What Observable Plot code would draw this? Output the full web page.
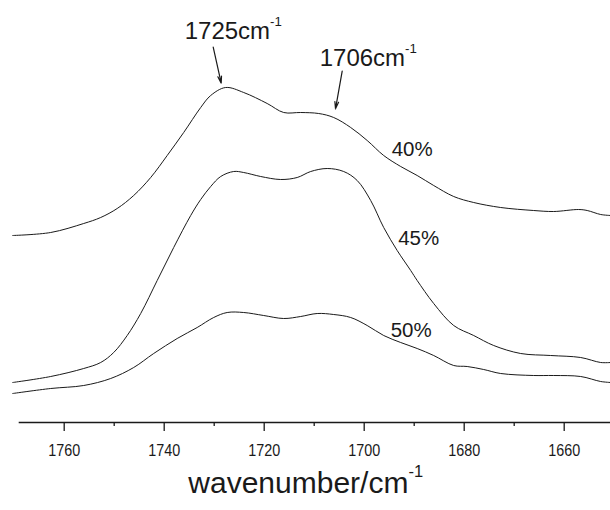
<!DOCTYPE html>
<html>
<head>
<meta charset="utf-8">
<script src="https://cdn.jsdelivr.net/npm/d3@7"></script>
<script src="https://cdn.jsdelivr.net/npm/@observablehq/plot@0.6"></script>
<style>
  html, body { margin: 0; padding: 0; background: #fff; }
  #chart svg { display: block; font-family: "Liberation Sans", Arial, sans-serif; }
</style>
</head>
<body>
<div id="chart"></div>
<script>
// ---- data (wavenumber in cm^-1, absorbance in arbitrary offset units) ----
const wn40 = [1770.3,1762.7,1756.1,1752.7,1749.4,1746.1,1742.7,1739.4,1736.1,1732.7,1730.7,1727.7,1724.1,1719.4,1716.1,1712.7,1709.1,1706.1,1702.7,1699.4,1696.1,1692.7,1689.4,1686.1,1682.1,1678.1,1672.7,1666.1,1662.1,1657.1,1655.4,1652.7,1650.7];
const ab40 = [1.87,1.90,1.99,2.05,2.14,2.27,2.45,2.67,2.90,3.15,3.27,3.35,3.30,3.19,3.10,3.10,3.09,3.05,2.95,2.82,2.67,2.56,2.47,2.37,2.26,2.20,2.15,2.12,2.11,2.13,2.12,2.08,2.07];

const wn45 = [1770.3,1762.7,1756.1,1752.7,1750.1,1747.4,1744.7,1741.4,1738.1,1734.7,1732.7,1730.7,1728.7,1726.1,1724.1,1720.7,1716.7,1713.4,1710.7,1707.4,1704.1,1701.4,1698.7,1696.1,1693.4,1690.7,1689.4,1686.1,1682.1,1678.1,1674.1,1668.7,1662.7,1656.7,1652.7,1650.7];
const ab45 = [0.40,0.46,0.54,0.60,0.70,0.87,1.09,1.42,1.75,2.07,2.23,2.36,2.46,2.51,2.50,2.46,2.43,2.45,2.51,2.54,2.51,2.42,2.22,1.95,1.72,1.52,1.42,1.19,0.97,0.87,0.77,0.69,0.67,0.65,0.60,0.60];

const wn50 = [1770.3,1762.7,1756.1,1750.7,1746.1,1742.1,1737.4,1733.4,1730.1,1727.4,1724.1,1720.1,1716.1,1712.7,1709.4,1706.1,1702.7,1699.4,1696.1,1692.7,1689.4,1686.1,1682.1,1679.4,1676.1,1672.7,1666.1,1662.1,1656.7,1652.7,1650.7];
const ab50 = [0.29,0.34,0.37,0.44,0.55,0.69,0.84,0.95,1.05,1.10,1.10,1.07,1.04,1.06,1.09,1.08,1.05,0.97,0.87,0.80,0.74,0.67,0.57,0.56,0.53,0.49,0.47,0.47,0.46,0.41,0.40];

const majorTicks = [1760, 1740, 1720, 1700, 1680, 1660];
const minorTicks = [1750, 1730, 1710, 1690, 1670];

const seriesLabels = ["40%", "45%", "50%"];
const seriesLabelX = [1694.5, 1693.2, 1694.7];
const seriesLabelY = [2.67, 1.78, 0.86];

const peakLabels = ["1725cm", "1706cm"];
const peakLabelX = [1735.9, 1708.9];
const peakLabelY = [3.837, 3.57];
const arrowFromX = [1730.2, 1704.4];
const arrowFromY = [3.753, 3.513];
const arrowToX = [1728.6, 1705.74];
const arrowToY = [3.393, 3.137];

const xLabel = "wavenumber/cm";
const xLabelPos = 1711.7;

// ---- build tables ----
const toRows = (wn, ab, s) => wn.map((w, i) => ({wn: w, a: ab[i], s}));
const curves = [toRows(wn40, ab40, "40%"), toRows(wn45, ab45, "45%"), toRows(wn50, ab50, "50%")];
const lbls = seriesLabels.map((t, i) => ({t, x: seriesLabelX[i], y: seriesLabelY[i]}));
const peaks = peakLabels.map((t, i) => ({t, x: peakLabelX[i], y: peakLabelY[i],
  x1: arrowFromX[i], y1: arrowFromY[i], x2: arrowToX[i], y2: arrowToY[i]}));

const ink = "#1a1a1a";

const plot = Plot.plot({
  width: 610,
  height: 510,
  marginLeft: 12,
  marginRight: 0,
  marginTop: 0,
  marginBottom: 88,
  style: {fontFamily: '"Liberation Sans", Arial, sans-serif', color: ink, background: "#fff"},
  x: {domain: [1770.34, 1650.74]},
  y: {domain: [0, 4.22], axis: null},
  marks: [
    ...curves.map(c => Plot.line(c, {x: "wn", y: "a", stroke: ink, strokeWidth: 1, curve: "catmull-rom"})),
    Plot.ruleY([0], {x1: 1769, x2: 1650.74, stroke: ink, strokeWidth: 1.6}),
    Plot.axisX({ticks: minorTicks, tickSize: 4, text: null, label: null, stroke: ink, strokeWidth: 1.3}),
    Plot.axisX({ticks: majorTicks, tickSize: 9, tickPadding: 12, tickFormat: d => String(d), label: null,
      fontSize: 17, stroke: ink, strokeWidth: 1.3, fill: ink, className: "ticklab"}),
    Plot.text(lbls, {x: "x", y: "y", text: "t", textAnchor: "start", lineAnchor: "bottom", fontSize: 20.5, fill: ink}),
    Plot.text(peaks, {x: "x", y: "y", text: "t", textAnchor: "start", lineAnchor: "bottom", fontSize: 24, fill: ink}),
    Plot.arrow(peaks, {x1: "x1", y1: "y1", x2: "x2", y2: "y2", stroke: ink, strokeWidth: 1.2, headLength: 9, headAngle: 30}),
    Plot.text([xLabel], {x: () => xLabelPos, frameAnchor: "bottom", dy: 70, text: d => d, textAnchor: "middle",
      lineAnchor: "bottom", fontSize: 30, fill: ink})
  ]
});

// add superscript "-1" after each "cm" label
d3.select(plot).selectAll("text").filter(function () {
  return this.textContent.endsWith("cm");
}).each(function () {
  d3.select(this).append("tspan").attr("dy", "-0.95em").attr("font-size", "0.55em").text("-1");
});

// narrow tick labels like the reference
d3.select(plot).selectAll("g.ticklab text").each(function () {
  d3.select(this).attr("textLength", 32).attr("lengthAdjust", "spacingAndGlyphs");
});

document.getElementById("chart").appendChild(plot);
</script>
</body>
</html>
